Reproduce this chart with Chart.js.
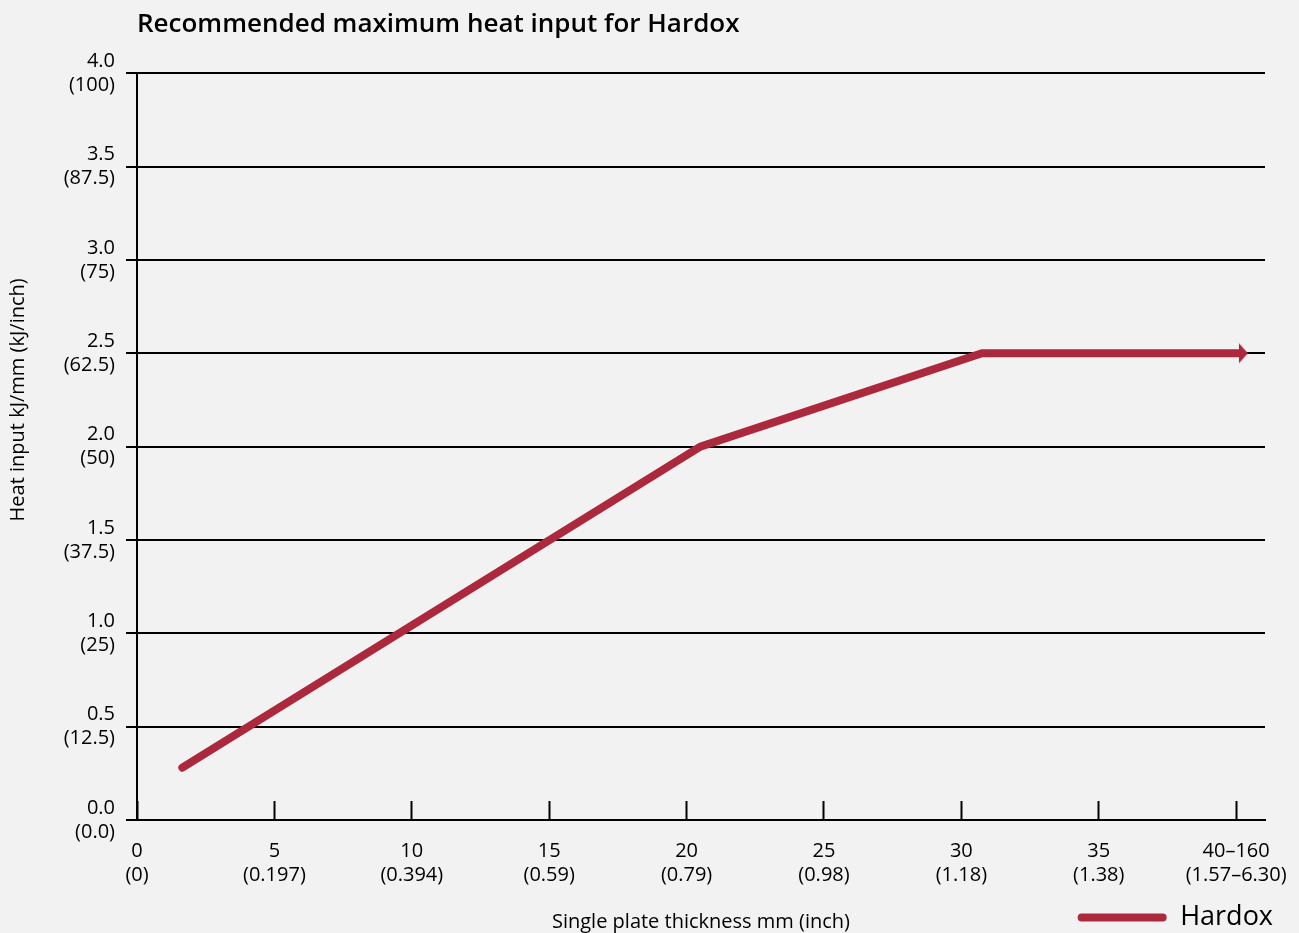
<!DOCTYPE html>
<html>
<head>
<meta charset="utf-8">
<script src="https://cdn.jsdelivr.net/npm/chart.js@4.4.0/dist/chart.umd.min.js"></script>
<style>
html,body{margin:0;padding:0;background:#f2f2f2;}
#c{display:block;}
</style>
</head>
<body>
<canvas id="c" width="1299" height="933"></canvas>
<script>
const chartTitle = 'Recommended maximum heat input for Hardox';
const seriesName = 'Hardox';
const xTitle = 'Single plate thickness mm (inch)';
const yTitle = 'Heat input kJ/mm (kJ/inch)';

const thicknessMm = [1.65, 20.5, 30.75, 40.1];
const heatInput = [0.28, 2.0, 2.5, 2.5];

const xTickValues = [0, 5, 10, 15, 20, 25, 30, 35, 40];
const xTickMm = ['0', '5', '10', '15', '20', '25', '30', '35', '40–160'];
const xTickInch = ['(0)', '(0.197)', '(0.394)', '(0.59)', '(0.79)', '(0.98)', '(1.18)', '(1.38)', '(1.57–6.30)'];

const yTickValues = [0, 0.5, 1, 1.5, 2, 2.5, 3, 3.5, 4];
const yTickMm = ['0.0', '0.5', '1.0', '1.5', '2.0', '2.5', '3.0', '3.5', '4.0'];
const yTickInch = ['(0.0)', '(12.5)', '(25)', '(37.5)', '(50)', '(62.5)', '(75)', '(87.5)', '(100)'];

const FONT = "'Open Sans', sans-serif";
const LINE_COLOR = '#ac283d';

// arrow head used as the last point's style
const arrow = document.createElement('canvas');
arrow.width = 20; arrow.height = 22;
(function () {
  const g = arrow.getContext('2d');
  g.fillStyle = LINE_COLOR;
  g.beginPath();
  g.moveTo(10, 1); g.lineTo(19, 11); g.lineTo(10, 21); g.closePath();
  g.fill();
})();

const points = thicknessMm.map((x, i) => ({ x: x, y: heatInput[i] }));
const last = points.length - 1;

new Chart(document.getElementById('c'), {
  type: 'line',
  data: {
    datasets: [{
      label: seriesName,
      data: points,
      borderColor: LINE_COLOR,
      backgroundColor: LINE_COLOR,
      borderWidth: 8,
      borderCapStyle: 'round',
      borderJoinStyle: 'miter',
      tension: 0,
      fill: false,
      pointStyle: points.map((p, i) => i === last ? arrow : 'circle'),
      pointRadius: points.map((p, i) => i === last ? 10 : 0),
      pointHoverRadius: points.map((p, i) => i === last ? 10 : 0)
    }]
  },
  options: {
    responsive: false,
    devicePixelRatio: 1,
    animation: false,
    events: [],
    layout: { padding: { left: 0, right: 16, top: 0, bottom: -8 } },
    plugins: {
      tooltip: { enabled: false },
      title: {
        display: true,
        text: chartTitle,
        align: 'start',
        fullSize: false,
        color: '#000',
        font: { family: FONT, size: 26, weight: 600 },
        padding: { top: 9, bottom: 33 }
      },
      legend: {
        display: true,
        position: 'bottom',
        align: 'end',
        labels: {
          color: '#000',
          font: { family: FONT, size: 27, weight: 500 },
          boxWidth: 89,
          boxHeight: 8,
          padding: 10,
          useBorderRadius: true,
          borderRadius: 4,
          generateLabels: (chart) => Chart.defaults.plugins.legend.labels.generateLabels(chart)
            .map(l => Object.assign(l, { lineWidth: 0, fillStyle: LINE_COLOR, strokeStyle: LINE_COLOR }))
        }
      }
    },
    scales: {
      x: {
        type: 'linear',
        min: 0,
        max: 41.05,
        afterBuildTicks: (s) => { s.ticks = xTickValues.map(v => ({ value: v })); },
        afterFit: (s) => { s.height = 74; s.paddingLeft = 0; s.paddingRight = 34; },
        ticks: {
          autoSkip: false,
          maxRotation: 0,
          padding: 38,
          color: '#000',
          font: { family: FONT, size: 20, weight: 500 },
          callback: (v, i) => [xTickMm[i], xTickInch[i]]
        },
        grid: {
          drawOnChartArea: false,
          drawTicks: true,
          tickLength: -19,
          tickWidth: 2,
          tickColor: '#000'
        },
        border: { display: true, color: '#000', width: 2 },
        title: {
          display: true,
          text: xTitle,
          color: '#000',
          font: { family: FONT, size: 20, weight: 500 },
          padding: { top: 0, bottom: -40 }
        }
      },
      y: {
        type: 'linear',
        min: 0,
        max: 4,
        afterBuildTicks: (s) => { s.ticks = yTickValues.map(v => ({ value: v })); },
        afterFit: (s) => { s.width = 137; s.paddingTop = 0; s.paddingBottom = 0; },
        ticks: {
          padding: 11,
          color: '#000',
          font: { family: FONT, size: 20, weight: 500 },
          callback: (v, i) => [yTickMm[i], yTickInch[i]]
        },
        grid: {
          color: '#000',
          lineWidth: 2,
          drawTicks: true,
          tickLength: 11
        },
        border: { display: true, color: '#000', width: 2 },
        title: {
          display: true,
          text: ' '.repeat(18) + yTitle,
          color: '#000',
          font: { family: FONT, size: 20, weight: 500 },
          padding: { top: 6, bottom: 0 }
        }
      }
    }
  }
});
</script>
</body>
</html>
